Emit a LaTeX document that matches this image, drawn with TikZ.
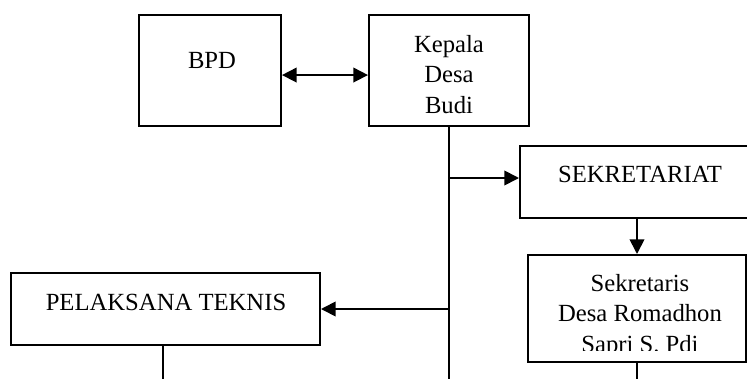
\documentclass[tikz,border=0pt]{standalone}
\usepackage{fontspec}
\setmainfont{Liberation Serif}
\usepackage{tikz}
\usetikzlibrary{
	arrows.meta,
	positioning,
	calc
}

\begin{document}
\begin{tikzpicture}[
				x=0.75pt, y=-0.75pt,
				box/.style={
					rectangle, draw, line width=1.5pt,
					inner sep=0pt
				},
				txt/.style={
					align=center, inner sep=0pt,
					font=\fontsize{18.5}{22.8}\selectfont
				},
				conn/.style={line width=1.3pt},
				arrow/.style={conn, -{Triangle[length=11pt, width=11pt]}},
				dblarrow/.style={conn, {Triangle[length=11pt, width=11pt]}-{Triangle[length=11pt, width=11pt]}},
				]
				\useasboundingbox (0,0) rectangle (747,379);
				\clip (0,0) rectangle (747,379);
				
				%top row
				\node[box, minimum width=106.5pt, minimum height=83.25pt] (bpd) at (210,70.5) {};
				\node[txt, anchor=base] (bpdtext) at (212,68) {BPD};
				
				\node[box, minimum width=120pt, minimum height=83.25pt] (kades) at (449,70.5) {};
				\node[txt, anchor=base] (kadestext) at (449,113) {Kepala\\Desa\\Budi};
				\draw [dblarrow] ([yshift=-3.4pt]bpd.east) -- ([yshift=-3.4pt]kades.west);
				
				%right side
				\node[box, minimum width=175.5pt, minimum height=54pt] (sekre) at (637,182) {};
				\node[txt, anchor=base] (sekretext) at (640,182) {SEKRETARIAT};
				\coordinate (sekrein) at ([yshift=3pt]sekre.west);
				
				\node[box, minimum width=163.5pt, minimum height=80.25pt] (sekdes) at (637,308.5) {};
				\begin{scope}
					\clip (528,255) rectangle (746,350);
					\node[txt, anchor=base] (sekdestext) at (640,352) {Sekretaris\\Desa Romadhon\\Sapri S. Pdi};
				\end{scope}
				\draw [arrow] (sekre.south) -- (sekdes.north);
				
				%left side
				\node[box, minimum width=231.75pt, minimum height=54pt] (pelak) at (165.5,309) {};
				\node[txt, anchor=base] (pelaktext) at (166,310) {PELAKSANA TEKNIS};
				
				%lines down
				\coordinate (trunkend) at (449,379);
				\coordinate (sekdesend) at (637,379);
				\coordinate (pelakend) at (163,379);
				\draw [conn] (kades.south) -- (trunkend);
				\draw [arrow] (kades.south |- sekrein) -- (sekrein);
				\draw [arrow] (kades.south |- pelak.east) -- (pelak.east);
				\draw [conn] (sekdes.south) -- (sekdesend);
				\draw [conn] (pelak.south -| pelakend) -- (pelakend);
			\end{tikzpicture}
\end{document}
